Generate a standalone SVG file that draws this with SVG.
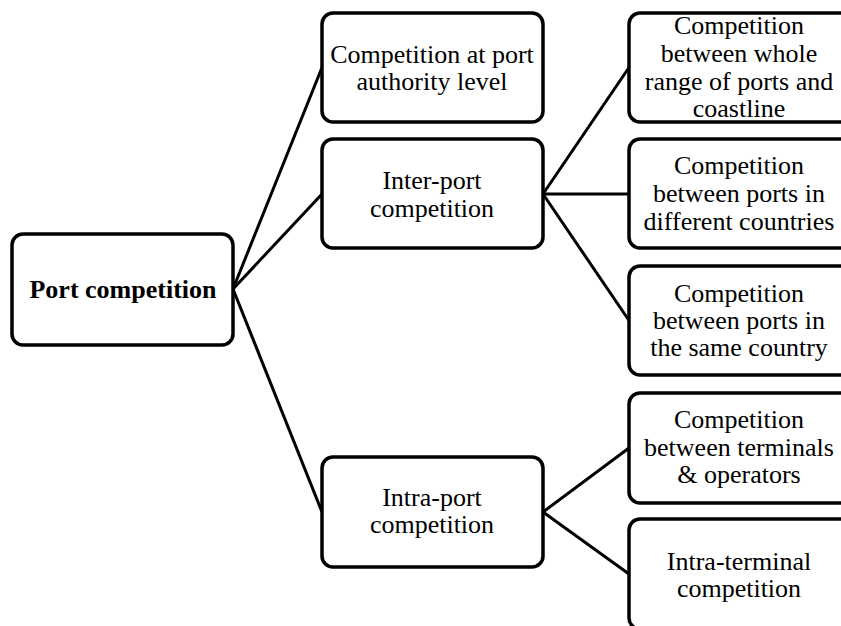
<svg xmlns="http://www.w3.org/2000/svg" width="841" height="626" viewBox="0 0 841 626">
<style>
.box{fill:#fff;stroke:#000;stroke-width:3.5}
.t{font-family:"Liberation Serif","Times New Roman",serif;font-size:26px;text-anchor:middle;fill:#000}
.b{font-weight:bold}
.c{stroke:#000;stroke-width:3;fill:none}
</style>
<rect width="841" height="626" fill="#fff"/>
<g id="connectors">
<line class="c" x1="233" y1="289" x2="322" y2="67.5"/>
<line class="c" x1="233" y1="289" x2="322" y2="194"/>
<line class="c" x1="233" y1="289" x2="322" y2="512"/>
<line class="c" x1="543" y1="194" x2="629" y2="67.5"/>
<line class="c" x1="543" y1="194" x2="629" y2="194"/>
<line class="c" x1="543" y1="194" x2="629" y2="320.5"/>
<line class="c" x1="543" y1="512" x2="629" y2="448"/>
<line class="c" x1="543" y1="512" x2="629" y2="574"/>
</g>
<g id="root">
<rect class="box" x="12" y="234" width="221" height="111" rx="11"/>
<text class="t b" x="123" y="298">Port competition</text>
</g>
<g id="authority">
<rect class="box" x="322" y="13" width="221" height="109" rx="11"/>
<text class="t" x="432" y="63">Competition at port</text>
<text class="t" x="432" y="90">authority level</text>
</g>
<g id="interport">
<rect class="box" x="322" y="139" width="221" height="109" rx="11"/>
<text class="t" x="432" y="189">Inter-port</text>
<text class="t" x="432" y="217">competition</text>
</g>
<g id="intraport">
<rect class="box" x="322" y="457" width="221" height="110" rx="11"/>
<text class="t" x="432" y="506">Intra-port</text>
<text class="t" x="432" y="533">competition</text>
</g>
<g id="whole-range">
<rect class="box" x="629" y="13" width="222" height="109" rx="11"/>
<text class="t" x="739" y="34">Competition</text>
<text class="t" x="739" y="62">between whole</text>
<text class="t" x="739" y="90">range of ports and</text>
<text class="t" x="739" y="117">coastline</text>
</g>
<g id="different-countries">
<rect class="box" x="629" y="139" width="222" height="109" rx="11"/>
<text class="t" x="739" y="174">Competition</text>
<text class="t" x="739" y="202">between ports in</text>
<text class="t" x="739" y="230">different countries</text>
</g>
<g id="same-country">
<rect class="box" x="629" y="266" width="222" height="109" rx="11"/>
<text class="t" x="739" y="302">Competition</text>
<text class="t" x="739" y="329">between ports in</text>
<text class="t" x="739" y="356">the same country</text>
</g>
<g id="terminals">
<rect class="box" x="629" y="393" width="222" height="110" rx="11"/>
<text class="t" x="739" y="428">Competition</text>
<text class="t" x="739" y="456">between terminals</text>
<text class="t" x="739" y="483">&amp; operators</text>
</g>
<g id="intra-terminal">
<rect class="box" x="629" y="519" width="222" height="110" rx="11"/>
<text class="t" x="739" y="570">Intra-terminal</text>
<text class="t" x="739" y="597">competition</text>
</g>
</svg>
